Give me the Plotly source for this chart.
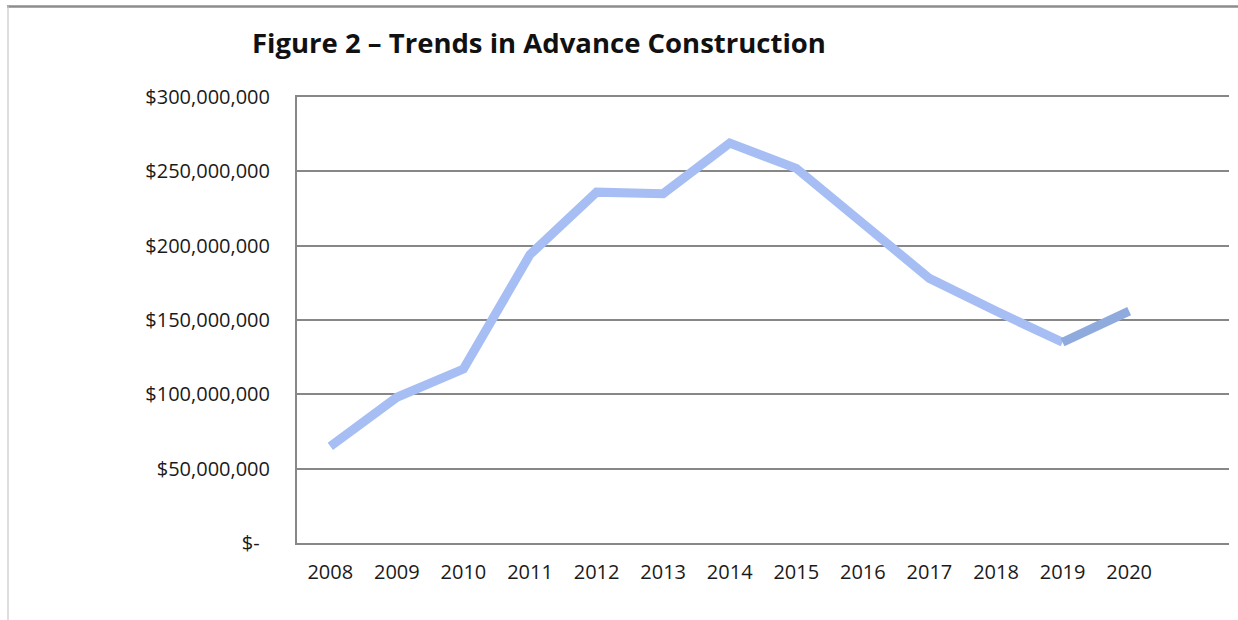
import plotly.graph_objects as go

years = ["2008", "2009", "2010", "2011", "2012", "2013", "2014",
         "2015", "2016", "2017", "2018", "2019", "2020"]
values = [65_000_000, 98_000_000, 117_000_000, 194_000_000, 236_000_000,
          235_000_000, 269_000_000, 252_000_000, 215_000_000, 178_000_000,
          156_000_000, 135_000_000, 156_000_000]
ytick_vals = [0, 50_000_000, 100_000_000, 150_000_000, 200_000_000,
              250_000_000, 300_000_000]
ytick_text = ["$-\u00a0\u00a0", "$50,000,000", "$100,000,000", "$150,000,000",
              "$200,000,000", "$250,000,000", "$300,000,000"]
title_text = "Figure 2 \u2013 Trends in Advance Construction"

W, H = 1238, 620
ML, MR, MT, MB = 297, 9, 97, 77
pw, ph = W - ML - MR, H - MT - MB

def px_x(p):
    return (p - ML) / pw

def px_y(p):
    return (H - MB - p) / ph

fig = go.Figure()
fig.add_trace(go.Scatter(
    x=years[:-1], y=values[:-1], mode="lines",
    line=dict(color="#a6bef4", width=9), showlegend=False, hoverinfo="x+y"))
fig.add_trace(go.Scatter(
    x=years[-2:], y=values[-2:], mode="lines",
    line=dict(color="#8fabdd", width=9), showlegend=False, hoverinfo="x+y"))

gray = "#878787"
fig.update_layout(
    width=W, height=H,
    margin=dict(l=ML, r=MR, t=MT, b=MB),
    paper_bgcolor="white", plot_bgcolor="white",
    font=dict(family="Open Sans, Noto Sans, sans-serif", size=20, color="#1a1a1a"),
    title=dict(text="<b>" + title_text + "</b>", x=252 / W, xref="container",
               xanchor="left", yref="container", y=1 - 43 / H, yanchor="middle",
               font=dict(size=27.5, color="#111111")),
    xaxis=dict(type="category", range=[-0.5, 13.5], showgrid=False,
               showline=True, linecolor=gray, linewidth=2, mirror=True, ticks="",
               tickfont=dict(size=20), ticklabelstandoff=10),
    yaxis=dict(range=[0, 300_000_000], tickvals=ytick_vals, ticktext=ytick_text,
               showgrid=True, gridcolor=gray, gridwidth=1.5,
               showline=True, linecolor=gray, linewidth=2, ticks="",
               zeroline=False, tickfont=dict(size=20), ticklabelstandoff=21),
    shapes=[
        dict(type="line", xref="paper", yref="paper",
             x0=px_x(7), x1=px_x(1238), y0=px_y(6.5), y1=px_y(6.5),
             line=dict(color="#8c8c8c", width=2.5)),
        dict(type="line", xref="paper", yref="paper",
             x0=px_x(8), x1=px_x(8), y0=px_y(6), y1=px_y(620),
             line=dict(color="#c8c8c8", width=1.2)),
    ],
)

fig.write_html("out.html")
